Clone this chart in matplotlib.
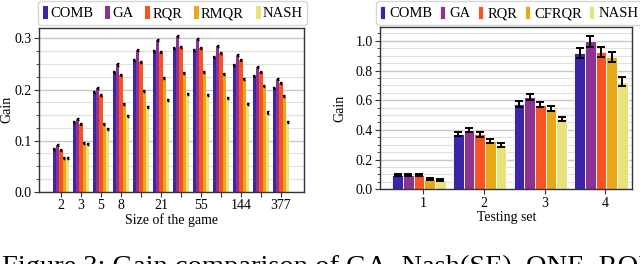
import numpy as np
import matplotlib
matplotlib.use("Agg")
import matplotlib.pyplot as plt
from matplotlib.ticker import MultipleLocator

plt.rcParams['font.family'] = ['Liberation Serif', 'DejaVu Serif']

# left chart: gain vs size of the game
sizes = [2, 3, 5, 8, 13, 21, 34, 55, 89, 144, 233, 377]
size_labels = ['2', '3', '5', '8', '', '21', '', '55', '', '144', '', '377']
left_names = ['COMB', 'GA', 'RQR', 'RMQR', 'NASH']
left_comb = [0.083, 0.137, 0.195, 0.234, 0.258, 0.275, 0.282, 0.277, 0.264, 0.248, 0.226, 0.203]
left_ga   = [0.091, 0.143, 0.203, 0.249, 0.277, 0.297, 0.305, 0.299, 0.286, 0.268, 0.245, 0.221]
left_rqr  = [0.082, 0.132, 0.189, 0.228, 0.253, 0.274, 0.284, 0.281, 0.271, 0.257, 0.235, 0.213]
left_rmqr = [0.066, 0.096, 0.133, 0.172, 0.198, 0.222, 0.233, 0.235, 0.230, 0.220, 0.206, 0.188]
left_nash = [0.066, 0.093, 0.122, 0.148, 0.166, 0.179, 0.191, 0.189, 0.184, 0.171, 0.155, 0.136]

# right chart: gain per testing set
sets = ['1', '2', '3', '4']
right_names = ['COMB', 'GA', 'RQR', 'CFRQR', 'NASH']
right_comb  = [0.096, 0.373, 0.575, 0.919]
right_ga    = [0.097, 0.398, 0.622, 0.998]
right_rqr   = [0.094, 0.371, 0.571, 0.924]
right_cfrqr = [0.070, 0.324, 0.544, 0.890]
right_nash  = [0.063, 0.299, 0.472, 0.726]
right_err_comb  = [0.006, 0.015, 0.018, 0.033]
right_err_ga    = [0.006, 0.015, 0.018, 0.038]
right_err_rqr   = [0.006, 0.016, 0.018, 0.035]
right_err_cfrqr = [0.005, 0.012, 0.017, 0.035]
right_err_nash  = [0.005, 0.011, 0.014, 0.030]

colors = ['#3c25a6', '#8c3290', '#fa5322', '#e6a718', '#e8e27c']


def style_axes(ax):
    ax.set_axisbelow(True)
    ax.grid(axis='y', which='major', color='#c8c8c8', linewidth=1.0)
    ax.grid(axis='y', which='minor', color='#e0e0e0', linewidth=0.8)
    for sp in ax.spines.values():
        sp.set_color('#333333')
        sp.set_linewidth(1.0)
    ax.tick_params(axis='both', labelsize=10, length=3.5, color='#333333', pad=2)
    ax.tick_params(axis='y', which='minor', length=2, color='#333333')


def main():
    fig = plt.figure(figsize=(6.4, 2.64), dpi=100)

    # LEFT
    ax1 = fig.add_axes([0.061, 0.274, 0.414, 0.621])
    series = [left_comb, left_ga, left_rqr, left_rmqr, left_nash]
    x = np.arange(len(sizes))
    w = 0.165
    for k, vals in enumerate(series):
        ax1.bar(x + (k - 2) * w, vals, w, color=colors[k], label=left_names[k],
                yerr=0.002, error_kw=dict(ecolor='black', elinewidth=1.5, capsize=1.0, capthick=1.0))
    ax1.set_xticks(x)
    ax1.set_xticklabels(size_labels)
    ax1.set_xlim(-1.1, 12.15)
    ax1.set_ylim(0, 0.321)
    ax1.yaxis.set_major_locator(MultipleLocator(0.1))
    ax1.yaxis.set_minor_locator(MultipleLocator(0.025))
    style_axes(ax1)
    ax1.set_xlabel('Size of the game', fontsize=10, labelpad=1)
    ax1.set_ylabel('Gain', fontsize=10)
    ax1.yaxis.set_label_coords(-0.098, 0.5)
    leg1 = fig.legend(*ax1.get_legend_handles_labels(), loc='upper center', bbox_to_anchor=(0.27, 0.995),
                      ncol=5, fontsize=10.5, handlelength=0.35, handleheight=1.0, handletextpad=0.15,
                      columnspacing=0.8, borderpad=0.3, borderaxespad=0, frameon=True, fancybox=True)
    leg1.get_frame().set_edgecolor('#cccccc')

    # RIGHT
    ax2 = fig.add_axes([0.594, 0.283, 0.394, 0.614])
    series = [right_comb, right_ga, right_rqr, right_cfrqr, right_nash]
    errs = [right_err_comb, right_err_ga, right_err_rqr, right_err_cfrqr, right_err_nash]
    x = np.arange(1, len(sets) + 1)
    w = 0.176
    for k, vals in enumerate(series):
        ax2.bar(x - 0.07 + (k - 2) * w, vals, w, color=colors[k], label=right_names[k],
                edgecolor='white', linewidth=0.6, yerr=errs[k],
                error_kw=dict(ecolor='black', elinewidth=1.4, capsize=3, capthick=1.4))
    ax2.set_xticks(x)
    ax2.set_xticklabels(sets)
    ax2.set_xlim(0.29, 4.445)
    ax2.set_ylim(0, 1.092)
    ax2.yaxis.set_major_locator(MultipleLocator(0.2))
    ax2.yaxis.set_minor_locator(MultipleLocator(0.05))
    style_axes(ax2)
    ax2.set_xlabel('Testing set', fontsize=10, labelpad=1)
    ax2.set_ylabel('Gain', fontsize=10)
    ax2.yaxis.set_label_coords(-0.135, 0.5)
    leg2 = fig.legend(*ax2.get_legend_handles_labels(), loc='upper center', bbox_to_anchor=(0.796, 0.995),
                      ncol=5, fontsize=10.5, handlelength=0.35, handleheight=1.0, handletextpad=0.3,
                      columnspacing=0.5, borderpad=0.3, borderaxespad=0, frameon=True, fancybox=True)
    leg2.get_frame().set_edgecolor('#cccccc')

    # caption cut at the bottom
    fig.text(0.003, 0.035, 'Figure 3: Gain comparison of GA, Nash(SE), ONE, RQR',
             fontsize=20.5, va='top', ha='left')

    fig.savefig('out.png', dpi=100)
    plt.close(fig)


if __name__ == '__main__':
    main()
